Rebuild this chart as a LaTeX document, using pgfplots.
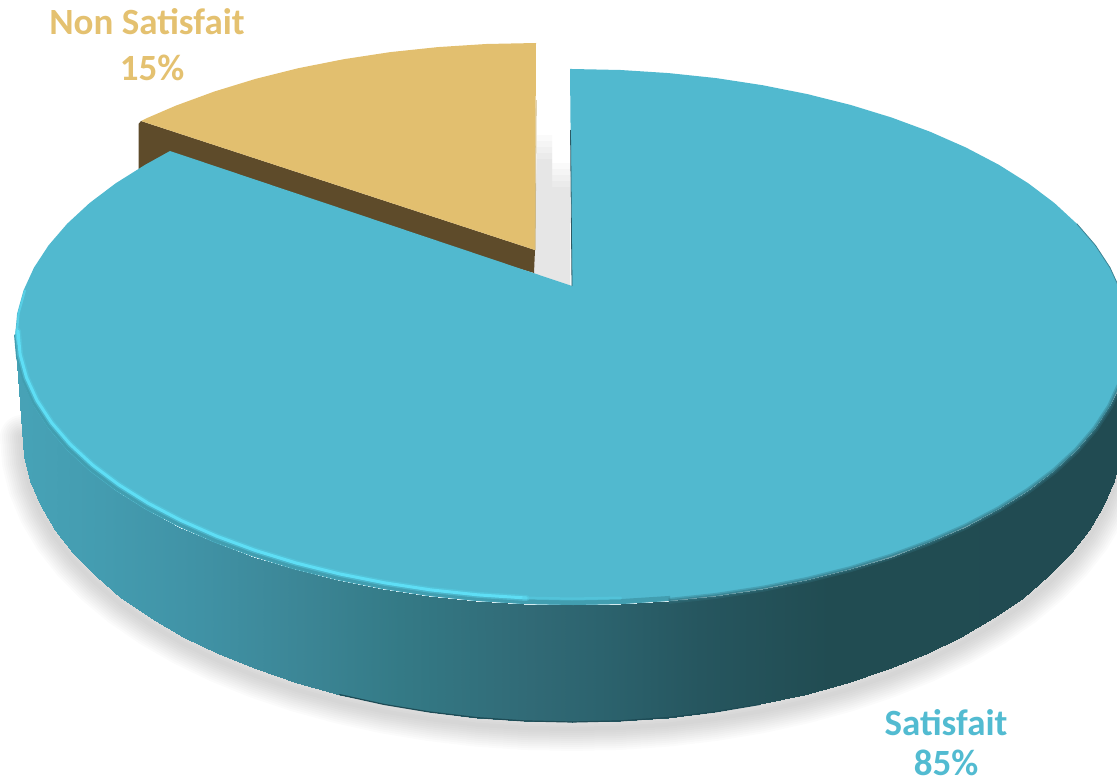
\documentclass[border=0pt]{standalone}
\usepackage{fontspec}
\setmainfont{Carlito}
\usepackage{pgfplots}
\usepackage{pgfplotstable}
\pgfplotsset{compat=1.18}
\definecolor{topblue}{RGB}{81,185,207}
\definecolor{gold}{RGB}{226,191,111}
\definecolor{brownside}{RGB}{94,75,42}
\definecolor{labelblue}{RGB}{82,187,209}
\definecolor{labelgold}{RGB}{228,193,112}
\definecolor{rimmid}{RGB}{66,158,176}
\definecolor{rimbright}{RGB}{94,222,245}
\definecolor{rimsoft}{RGB}{86,205,228}
\definecolor{rimdark}{RGB}{50,115,128}
\pgfplotstableread{
x y
22 430
24.1 455.5
30.4 480.7
40.8 505.6
55.2 529.9
73.5 553.4
95.7 576
121.4 597.5
150.7 617.7
183.1 636.5
218.5 653.7
256.5 669.2
297 682.9
339.6 694.6
383.9 704.4
429.7 712
476.5 717.6
524 720.9
572 722
620 720.9
667.5 717.6
714.3 712
760.1 704.4
804.4 694.6
847 682.9
887.5 669.2
925.5 653.7
960.9 636.5
993.3 617.7
1022.6 597.5
1048.3 576
1070.5 553.4
1088.8 529.9
1103.2 505.6
1113.6 480.7
1119.9 455.5
1122 430
}\bottomrim
\pgfplotstableread{
x y
15 337
17.1 360.4
23.5 383.5
34 406.4
48.6 428.7
67.2 450.3
89.6 471
115.7 490.7
145.3 509.3
178.1 526.5
214 542.3
252.5 556.5
293.5 569.1
336.6 579.9
381.5 588.8
427.8 595.9
475.3 600.9
523.4 604
}\highlightrim
\pgfplotstableread{
x y
15 337
17.1 360.4
23.5 383.5
34 406.4
48.6 428.7
67.2 450.3
89.6 471
115.7 490.7
145.3 509.3
178.1 526.5
214 542.3
252.5 556.5
293.5 569.1
336.6 579.9
381.5 588.8
427.8 595.9
475.3 600.9
523.4 604
572 605
620.6 604
668.7 600.9
}\midrim
\begin{document}
\begin{tikzpicture}
\begin{axis}[
  scale only axis, width=1117pt, height=784pt,
  xmin=0, xmax=1117, ymin=0, ymax=784, y dir=reverse,
  hide axis, clip=true,
  colormap={side}{rgb255(14)=(71,163,183) rgb255(100)=(68,156,176) rgb255(200)=(64,146,165) rgb255(300)=(60,134,150) rgb255(400)=(52,122,134) rgb255(530)=(49,106,118) rgb255(600)=(44,99,110) rgb255(700)=(38,86,95) rgb255(830)=(33,76,82) rgb255(1129)=(33,75,82)},
  point meta min=14, point meta max=1129,
]
% soft shadow under the disc
\pgfplotsinvokeforeach{4,8,12,16,20,24,28,32,36,40,44}{
  \addplot[black, opacity=0.016, line width=#1pt, line cap=round, no marks, yshift=-7pt] table[x=x,y=y] {\bottomrim};
}
% shadow in the gap
\addplot[fill=black, opacity=0.018, draw=none] coordinates {(537,135) (552,135) (552,163) (570,163) (570,287) (534,274)} -- cycle;
\addplot[fill=black, opacity=0.018, draw=none] coordinates {(537,141) (552,141) (552,169) (570,169) (570,287) (534,274)} -- cycle;
\addplot[fill=black, opacity=0.018, draw=none] coordinates {(537,147) (552,147) (552,175) (570,175) (570,287) (534,274)} -- cycle;
\addplot[fill=black, opacity=0.018, draw=none] coordinates {(537,153) (552,153) (552,181) (570,181) (570,287) (534,274)} -- cycle;
\addplot[fill=black, opacity=0.018, draw=none] coordinates {(537,159) (552,159) (552,187) (570,187) (570,287) (534,274)} -- cycle;
% gold slice: side then top
\addplot[fill=brownside, draw=none] coordinates {(138.5,124) (141,121) (535,250) (534,273) (300,205) (141,172) (138.5,170)} -- cycle;
\addplot[fill=gold, draw=none] coordinates {
(536,43) (486.3,44) (437.9,47.1) (390.3,52.1) (343.8,59.2) (298.8,68.1) (255.5,78.9) (214.4,91.5) (175.7,105.7) (146.7,118.2) (141,121) (535,250)} -- cycle;
% blue side wall
\addplot[surf, shader=interp, mesh/cols=2, point meta=x] table[row sep=newline] {
x y
15 337
22 430
17.1 360.4
24.1 455.5
23.5 383.5
30.4 480.7
34 406.4
40.8 505.6
48.6 428.7
55.2 529.9
67.2 450.3
73.5 553.4
89.6 471
95.7 576
115.7 490.7
121.4 597.5
145.3 509.3
150.7 617.7
178.1 526.5
183.1 636.5
214 542.3
218.5 653.7
252.5 556.5
256.5 669.2
293.5 569.1
297 682.9
336.6 579.9
339.6 694.6
381.5 588.8
383.9 704.4
427.8 595.9
429.7 712
475.3 600.9
476.5 717.6
523.4 604
524 720.9
572 605
572 722
620.6 604
620 720.9
668.7 600.9
667.5 717.6
716.2 595.9
714.3 712
762.5 588.8
760.1 704.4
807.4 579.9
804.4 694.6
850.5 569.1
847 682.9
891.5 556.5
887.5 669.2
930 542.3
925.5 653.7
965.9 526.5
960.9 636.5
998.7 509.3
993.3 617.7
1028.3 490.7
1022.6 597.5
1054.4 471
1048.3 576
1076.8 450.3
1070.5 553.4
1095.4 428.7
1088.8 529.9
1110 406.4
1103.2 505.6
1120.5 383.5
1113.6 480.7
1126.9 360.4
1119.9 455.5
1129 337
1122 430
};
% dark thin lower edge of the wall
\addplot[color={rgb,255:red,30;green,75;blue,85}, line width=1.2pt, no marks, line cap=round] coordinates {(339.6,694.6) (383.9,704.4) (429.7,712) (476.5,717.6) (524,720.9) (572,722) (620,720.9) (667.5,717.6) (714.3,712) (760.1,704.4)};
% blue top
\addplot[fill=topblue, draw=none] coordinates {
(570,69) (572,69) (620.6,70) (668.7,73.1) (716.2,78.1) (762.5,85.2) (807.4,94.1) (850.5,104.9) (891.5,117.5) (930,131.7) (965.9,147.5) (998.7,164.7) (1028.3,183.3) (1054.4,203) (1076.8,223.7) (1095.4,245.3) (1110,267.6) (1120.5,290.5) (1126.9,313.6) (1129,337)
(1126.9,360.4) (1120.5,383.5) (1110,406.4) (1095.4,428.7) (1076.8,450.3) (1054.4,471) (1028.3,490.7) (998.7,509.3) (965.9,526.5) (930,542.3) (891.5,556.5) (850.5,569.1) (807.4,579.9) (762.5,588.8) (716.2,595.9) (668.7,600.9) (620.6,604) (572,605)
(523.4,604) (475.3,600.9) (427.8,595.9) (381.5,588.8) (336.6,579.9) (293.5,569.1) (252.5,556.5) (214,542.3) (178.1,526.5) (145.3,509.3) (115.7,490.7) (89.6,471) (67.2,450.3) (48.6,428.7) (34,406.4) (23.5,383.5) (17.1,360.4) (15,337)
(17.1,313.6) (23.5,290.5) (34,267.6) (48.6,245.3) (67.2,223.7) (89.6,203) (115.7,183.3) (145.3,164.7) (170,151) (572,286)} -- cycle;
% bevel: transition band, soft glow and bright core
\addplot[color=rimmid, line width=5pt, no marks, line join=round, yshift=2.5pt, xshift=1.5pt] table[x=x,y=y] {\midrim};
\addplot[color=rimsoft, line width=6pt, no marks, opacity=.5, line cap=round, yshift=6pt, xshift=3pt] table[x=x,y=y] {\highlightrim};
\addplot[color=rimbright, line width=3pt, no marks, line cap=round, yshift=6pt, xshift=3pt] table[x=x,y=y] {\highlightrim};
\addplot[color=rimbright, line width=2pt, no marks, opacity=.6, line cap=round, xshift=1.5pt] coordinates {(23.5,290.5) (17.1,313.6) (15,337) (17.1,345)};
\addplot[color=rimsoft, line width=3pt, no marks, opacity=.5, line cap=round, yshift=6pt] coordinates {(523.4,604) (572,605) (620.6,604)};
% bevel shade, right and front
\addplot[color=rimdark, line width=6pt, no marks, opacity=.35] coordinates {
(668.7,600.9) (716.2,595.9) (762.5,588.8) (807.4,579.9) (850.5,569.1) (891.5,556.5) (930,542.3) (965.9,526.5) (998.7,509.3) (1028.3,490.7) (1054.4,471) (1076.8,450.3) (1095.4,428.7) (1110,406.4) (1120.5,383.5)};
\addplot[color=rimdark, line width=3pt, no marks, opacity=.5] coordinates {
(668.7,600.9) (716.2,595.9) (762.5,588.8) (807.4,579.9) (850.5,569.1) (891.5,556.5) (930,542.3) (965.9,526.5) (998.7,509.3) (1028.3,490.7) (1054.4,471) (1076.8,450.3) (1095.4,428.7) (1110,406.4) (1120.5,383.5)};
\addplot[color={rgb,255:red,60;green,130;blue,146}, line width=.8pt, no marks] coordinates {
(1076.8,223.7) (1095.4,245.3) (1110,267.6) (1120.5,290.5)};
\addplot[color={rgb,255:red,45;green,90;blue,100}, line width=.8pt, no marks] coordinates {(570.5,130) (572,286)};
\addplot[color={rgb,255:red,205;green,185;blue,135}, line width=.8pt, no marks] coordinates {(536.2,100) (535.2,250)};
% labels
\node[overlay, inner sep=0pt, text=labelgold, font=\fontsize{37}{37}\selectfont\bfseries, anchor=base] at (axis cs:147,35) {Non Satisfait};
\node[overlay, inner sep=0pt, text=labelgold, font=\fontsize{37}{37}\selectfont\bfseries, anchor=base] at (axis cs:152,81) {15\%};
\node[overlay, inner sep=0pt, text=labelblue, font=\fontsize{37}{37}\selectfont\bfseries, anchor=base] at (axis cs:946,735) {Satisfait};
\node[overlay, inner sep=0pt, text=labelblue, font=\fontsize{37}{37}\selectfont\bfseries, anchor=base] at (axis cs:946,775) {85\%};
\end{axis}
\pgfresetboundingbox
\path[use as bounding box] (0,0) rectangle (1117pt,784pt);
\end{tikzpicture}
\end{document}
